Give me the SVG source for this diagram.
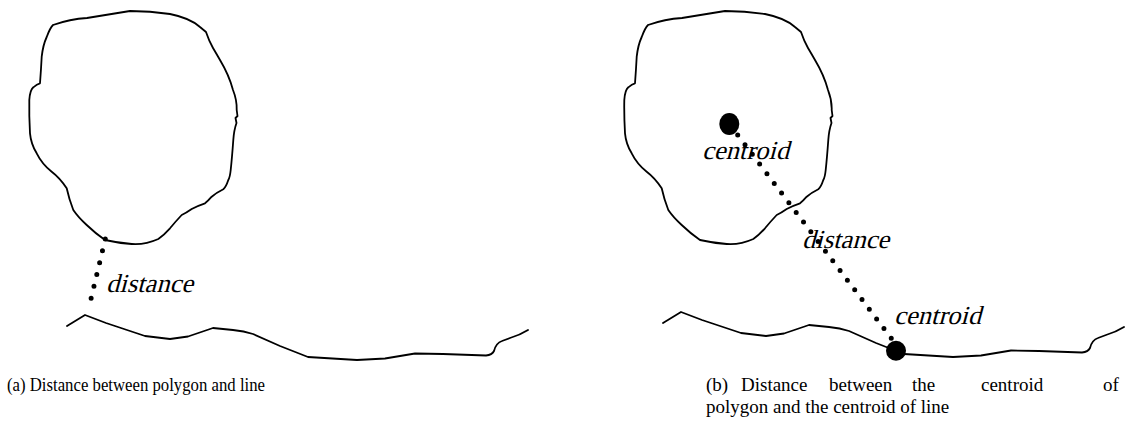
<svg xmlns="http://www.w3.org/2000/svg" xmlns:xlink="http://www.w3.org/1999/xlink" width="1129" height="430" viewBox="0 0 1129 430">
  <style>
    .outline { fill: none; stroke: #000; stroke-width: 1.8; stroke-linejoin: round; stroke-linecap: round; }
    .dots { fill: none; stroke: #000; stroke-width: 5; stroke-linecap: round; }
  </style>
  <defs>
    <!-- irregular closed region -->
    <path id="blob" d="M53,25 Q70,19 87,18 L130,11 Q150,11 170,14 Q190,18 200,27 L206,32 Q209,41 213,48 Q216,53 220,60 Q229,75 233,90 Q237,100 236.7,110 L237.5,116 L235.5,118 L236.5,123 Q234,130 233.3,140 Q232,158 230.7,170 Q230,177 228.3,180 Q226,187 223.3,189.3 Q216,193 211.7,196.7 Q208,201 205,203.3 Q197,206 191.7,209 Q186,213 181.7,215 Q176,221 170,228.3 Q164,235 158.3,239 Q145,245 131.7,244 Q118,243 105,240 Q95,233 86.7,225 Q78,217 73.3,210 Q69,199 66.7,188.3 Q60,178 51.7,171.7 Q42,164 36.7,153.3 Q31,144 30,133.3 Q29,116 29.3,100 Q30,90 33.3,87.3 Q37,84 40,83.3 Q41,70 41.7,56.7 Q43,45 46.7,37 Q50,28 53,25 Z"/>
    <!-- open polyline -->
    <path id="stroke-line" d="M67,326 L85,315 L106,323 L145,336 L170,339 L188,336.5 L213,328 L233,330 Q244,331 253,334 L280,346 L308,357 L357,360 L385,358.5 L415,353.5 L443,354 L486,355.5 Q492,355 494,351 Q496,343 502,341 L510,338 Q520,335 528,330"/>
  </defs>

  <!-- left panel: region and line -->
  <g id="polygon-a">
    <use xlink:href="#blob" class="outline"/>
  </g>
  <g id="line-a">
    <use xlink:href="#stroke-line" class="outline"/>
  </g>

  <!-- right panel: region and line with their centroids -->
  <g id="polygon-b">
    <use xlink:href="#blob" class="outline" transform="translate(595,0)"/>
    <ellipse id="centroid-polygon" cx="729.3" cy="124" rx="10" ry="11" fill="#000"/>
  </g>
  <g id="line-b">
    <use xlink:href="#stroke-line" class="outline" transform="translate(596,-3)"/>
    <circle id="centroid-line" cx="896" cy="350.7" r="10" fill="#000"/>
  </g>

  <!-- dotted distance connectors -->
  <g id="connectors">
    <line class="dots" x1="105.3" y1="239" x2="88.3" y2="310" stroke-dasharray="0 12.17"/>
    <line class="dots" x1="737.7" y1="135" x2="891.3" y2="338.3" stroke-dasharray="0 12.13"/>
  </g>

  <!-- slanted serif labels (skew gives the italic look) -->
  <g id="labels" font-family="Liberation Serif, serif" font-size="26" fill="#000">
    <text transform="translate(106,292) skewX(-15)" textLength="87" lengthAdjust="spacingAndGlyphs">distance</text>
    <text transform="translate(702,159) skewX(-15)" textLength="87" lengthAdjust="spacingAndGlyphs">centroid</text>
    <text transform="translate(802,248) skewX(-15)" textLength="87" lengthAdjust="spacingAndGlyphs">distance</text>
    <text transform="translate(894,324) skewX(-15)" textLength="87" lengthAdjust="spacingAndGlyphs">centroid</text>
  </g>

  <g id="captions" font-family="Liberation Serif, serif" font-size="19" fill="#000">
    <text x="7" y="391" textLength="258" lengthAdjust="spacingAndGlyphs">(a) Distance between polygon and line</text>
    <text y="391"><tspan x="706">(b)</tspan><tspan x="741">Distance</tspan><tspan x="829">between</tspan><tspan x="912">the</tspan><tspan x="981">centroid</tspan><tspan x="1103">of</tspan></text>
    <text x="706" y="413">polygon and the centroid of line</text>
  </g>
</svg>
